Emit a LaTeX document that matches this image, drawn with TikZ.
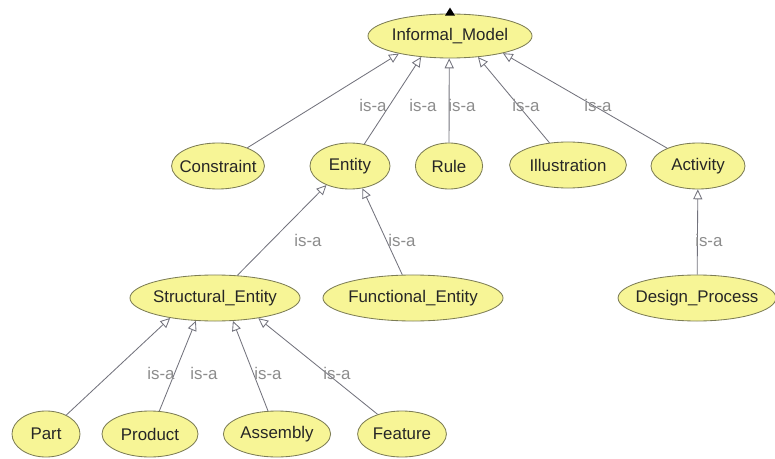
\documentclass[tikz,border=0pt]{standalone}
\usepackage{fontspec}
\setmainfont{Liberation Sans}
\usetikzlibrary{shapes.geometric,arrows.meta}
\definecolor{classfill}{RGB}{247,245,150}
\definecolor{classedge}{RGB}{125,125,85}
\definecolor{linkgray}{RGB}{115,115,125}
\definecolor{isagray}{RGB}{140,140,140}

\begin{document}
\begin{tikzpicture}[x=0.025cm,y=-0.025cm,
  cls/.style={ellipse,draw=classedge,fill=classfill,line width=0.6pt,
    minimum height=1.15cm,inner xsep=-4pt,inner ysep=0pt,
    font=\fontsize{12}{14}\selectfont,text=black!85},
  isa/.style={font=\fontsize{12}{14}\selectfont,text=isagray,inner sep=0pt},
  link/.style={draw=linkgray,line width=0.6pt,
    -{Triangle[length=7pt,width=6.5pt,fill=white]}}]
\useasboundingbox (0,0) rectangle (775,459);

% classes
\node[cls,minimum width=4.1cm,minimum height=1.1cm] (im) at (450,36) {Informal\_Model};
\fill (im.north) ++(-5,2) -- ++(10,0) -- ++(-5,-8) -- cycle;

\node[cls,minimum width=2.3cm]  (con)  at (218,166) {Constraint};
\node[cls,minimum width=2.0cm]  (ent)  at (350,166) {Entity};
\node[cls,minimum width=1.68cm] (rule) at (449,166) {Rule};
\node[cls,minimum width=2.92cm] (ill)  at (568,165) {Illustration};
\node[cls,minimum width=2.35cm] (act)  at (698,166) {Activity};

\node[cls,minimum width=4.25cm] (str) at (215,298) {Structural\_Entity};
\node[cls,minimum width=4.5cm]  (fun) at (413,298) {Functional\_Entity};
\node[cls,minimum width=3.88cm] (dp)  at (697,298) {Design\_Process};

\node[cls,minimum width=1.7cm]  (part) at (46,434)  {Part};
\node[cls,minimum width=2.4cm]  (prod) at (150,434) {Product};
\node[cls,minimum width=2.68cm] (asm)  at (277,434) {Assembly};
\node[cls,minimum width=2.22cm] (feat) at (402,434) {Feature};

% is-a links
\draw[link] (con) -- (im.199);
\draw[link] (ent) -- (im.216.5);
\draw[link] (rule) -- (im.268);
\draw[link] (ill) -- (im.323.5);
\draw[link] (act) -- (im.342);
\draw[link] (str) -- (ent.219);
\draw[link] (fun) -- (ent.299);
\draw[link] (dp) -- (act);
\draw[link] (part) -- (str.204);
\draw[link] (prod) -- (str.230);
\draw[link] (asm) -- (str.308);
\draw[link] (feat) -- (str.335.5);

% labels
\node[isa] (l1) at (373,105) {is-a};
\node[isa] (l2) at (423,105) {is-a};
\node[isa] (l3) at (462,105) {is-a};
\node[isa] (l4) at (526,105) {is-a};
\node[isa] (l5) at (598,105) {is-a};
\node[isa] (l6) at (308,240) {is-a};
\node[isa] (l7) at (402,240) {is-a};
\node[isa,anchor=west] (l8) at (695,240) {is-a};
\node[isa] (l9) at (161,373) {is-a};
\node[isa] (l10) at (204,373) {is-a};
\node[isa] (l11) at (268,373) {is-a};
\node[isa] (l12) at (337,373) {is-a};

\end{tikzpicture}
\end{document}
